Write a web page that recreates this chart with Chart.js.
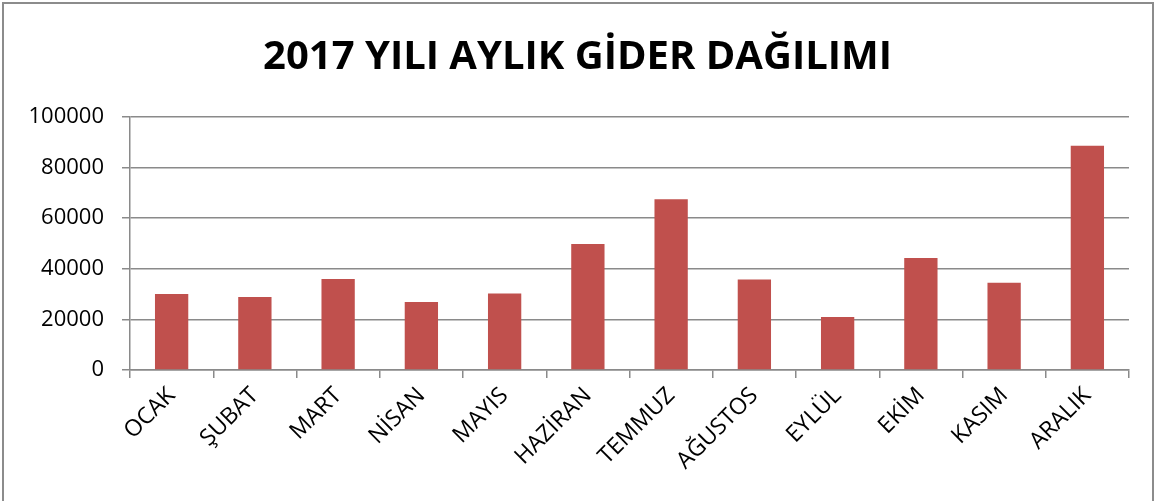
<!DOCTYPE html>
<html>
<head>
    <meta charset="UTF-8">
    <title>2017 Yılı Aylık Gider Dağılımı</title>
    <script src="https://cdn.jsdelivr.net/npm/chart.js"></script>
    <style>
        body { margin: 0; overflow: hidden; background: #fff; }
        #wrap { position: relative; width: 1155px; height: 501px; }
        #frame {
            position: absolute; left: 2px; top: 2px; width: 1148px; height: 600px;
            border: 2px solid #8c8c8c; pointer-events: none;
        }
    </style>
</head>
<body>
    <div id="wrap">
        <canvas id="myChart" width="1155" height="501"></canvas>
        <div id="frame"></div>
    </div>
    <script>
        // months (categories)
        const months = ['OCAK', 'ŞUBAT', 'MART', 'NİSAN', 'MAYIS', 'HAZİRAN',
                        'TEMMUZ', 'AĞUSTOS', 'EYLÜL', 'EKİM', 'KASIM', 'ARALIK'];
        // monthly expense
        const expenses = [30100, 28900, 36000, 26900, 30300, 49800,
                          67500, 35800, 21000, 44300, 34500, 88600];
        // y axis ticks
        const yTicks = [0, 20000, 40000, 60000, 80000, 100000];

        const gridColor = '#8a8a8a';
        const ctx = document.getElementById('myChart').getContext('2d');
        const chart = new Chart(ctx, {
            type: 'bar',
            data: {
                labels: months,
                datasets: [{
                    label: 'Gider',
                    data: expenses,
                    backgroundColor: '#c0504d',
                    borderWidth: 0,
                    categoryPercentage: 1.0,
                    barPercentage: 0.4
                }]
            },
            options: {
                responsive: false,
                animation: false,
                layout: {
                    padding: { left: 26, right: 26, top: 10, bottom: 22 }
                },
                plugins: {
                    legend: { display: false },
                    tooltip: { enabled: false },
                    title: {
                        display: true,
                        text: '2017 YILI AYLIK GİDER DAĞILIMI',
                        color: '#000',
                        font: { family: 'Open Sans', size: 40, weight: 'bold' },
                        padding: { top: 24, bottom: 35 }
                    }
                },
                scales: {
                    x: {
                        grid: {
                            offset: true,
                            drawOnChartArea: false,
                            color: gridColor,
                            lineWidth: 1.5,
                            tickLength: 8
                        },
                        border: { color: gridColor, width: 1.5 },
                        ticks: {
                            color: '#000',
                            autoSkip: false,
                            minRotation: 45,
                            maxRotation: 45,
                            padding: 4,
                            font: { family: 'Open Sans', size: 23 }
                        }
                    },
                    y: {
                        min: 0,
                        max: 100000,
                        afterBuildTicks: axis => {
                            axis.ticks = yTicks.map(v => ({ value: v }));
                        },
                        afterFit: axis => { axis.width = 104; },
                        grid: {
                            color: gridColor,
                            lineWidth: 1.5,
                            tickLength: 8
                        },
                        border: { color: gridColor, width: 1.5 },
                        ticks: {
                            color: '#000',
                            padding: 18,
                            font: { family: 'Open Sans', size: 22 },
                            callback: v => String(v)
                        }
                    }
                }
            }
        });
    </script>
</body>
</html>
